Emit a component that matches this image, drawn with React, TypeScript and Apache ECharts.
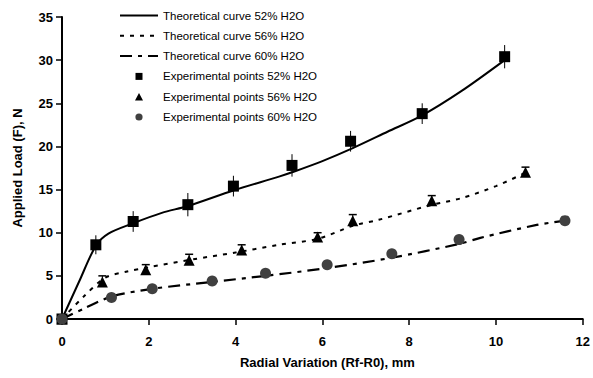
import React, { useEffect, useRef } from "react";
import * as echarts from "echarts";

const xTicks = [0, 2, 4, 6, 8, 10, 12];
const yTicks = [0, 5, 10, 15, 20, 25, 30, 35];

// Theoretical curves [x, y]
const theory52: number[][] = [
  [0, 0], [0.4, 4.4], [0.78, 8.5], [1.07, 9.9], [1.64, 11.1], [2.3, 12.3], [2.9, 13.1],
  [3.95, 14.9], [5.0, 16.5], [5.3, 17.0], [6.0, 18.3], [6.7, 19.8], [7.5, 21.7],
  [8.3, 23.6], [9.2, 26.4], [10.2, 30.0],
];
const theory56: number[][] = [
  [0, 0], [0.5, 2.6], [1.0, 4.8], [1.5, 5.5], [2.0, 6.0], [3.0, 6.9], [4.0, 7.7],
  [5.0, 8.6], [5.9, 9.3], [6.7, 10.8], [7.3, 11.5], [8.5, 13.2], [9.2, 14.0],
  [10.0, 15.4], [10.7, 17.0],
];
const theory60: number[][] = [
  [0, 0], [0.5, 1.2], [1.14, 2.6], [2.08, 3.5], [3.46, 4.3], [4.69, 5.0], [6.1, 5.9],
  [7.6, 7.1], [9.15, 8.7], [9.64, 9.4], [10.94, 10.9], [11.6, 11.4],
];

// Experimental points [x, y]
const exp52: number[][] = [
  [0, 0], [0.78, 8.6], [1.64, 11.3], [2.9, 13.25], [3.95, 15.4], [5.3, 17.8],
  [6.65, 20.6], [8.3, 23.8], [10.2, 30.4],
];
const err52 = [0, 1.1, 1.2, 1.35, 1.2, 1.3, 1.2, 1.2, 1.35];
const exp56: number[][] = [
  [0, 0], [0.93, 4.3], [1.93, 5.7], [2.93, 6.8], [4.14, 8.0], [5.89, 9.5],
  [6.7, 11.4], [8.52, 13.7], [10.68, 17.0],
];
const err56 = [0, 0.7, 0.6, 0.7, 0.6, 0.5, 0.7, 0.6, 0.6];
const exp60: number[][] = [
  [0, 0], [1.14, 2.5], [2.08, 3.5], [3.46, 4.4], [4.69, 5.3], [6.11, 6.3],
  [7.6, 7.55], [9.15, 9.2], [11.59, 11.4],
];

const names = [
  "Theoretical curve 52% H2O",
  "Theoretical curve 56% H2O",
  "Theoretical curve 60% H2O",
  "Experimental points 52% H2O",
  "Experimental points 56% H2O",
  "Experimental points 60% H2O",
];

const FONT = "Arial, 'Liberation Sans', Helvetica, sans-serif";

// legend icons with a 38x8 bounding box (move-to points) and a small centred marker
const squareIcon = "path://M0,0M38,8M15.5,0.5L22.5,0.5L22.5,7.5L15.5,7.5Z";
const triangleIcon = "path://M0,0M38,8M19,0.3L23,7.7L15,7.7Z";
const circleIcon = "path://M0,0M38,8M22.6,4A3.6,3.6,0,1,1,15.4,4A3.6,3.6,0,1,1,22.6,4Z";

export default function App() {
  const ref = useRef<HTMLDivElement>(null);
  useEffect(() => {
    if (!ref.current) return;
    const chart = echarts.init(ref.current, null, { renderer: "svg" });

    const errSeries = (pts: number[][], errs: number[], upperOnly: boolean, cap: number) => ({
      type: "custom",
      silent: true,
      z: 1,
      data: pts.map((p, i) => [p[0], p[1], errs[i]]),
      encode: { x: 0, y: 1 },
      renderItem: (params: any, api: any) => {
        const x = api.value(0);
        const y = api.value(1);
        const e = api.value(2);
        if (!e) return { type: "group", children: [] };
        const top = api.coord([x, y + e]);
        const bot = api.coord([x, upperOnly ? y : y - e]);
        const children: any[] = [
          {
            type: "line",
            shape: { x1: top[0], y1: top[1], x2: bot[0], y2: bot[1] },
            style: { stroke: "#000", lineWidth: 1 },
          },
        ];
        if (cap > 0) {
          children.push({
            type: "line",
            shape: { x1: top[0] - cap, y1: top[1], x2: top[0] + cap, y2: top[1] },
            style: { stroke: "#000", lineWidth: 1.5 },
          });
        }
        return { type: "group", children };
      },
    });

    const lineSeries = (name: string, data: number[][], type: any, width: number) => ({
      name,
      type: "line",
      data,
      symbol: "none",
      smooth: 0.3,
      lineStyle: { color: "#000", width, type },
      itemStyle: { color: "rgba(0,0,0,0)" },
      z: 2,
    });

    chart.setOption({
      animation: false,
      backgroundColor: "#fff",
      textStyle: { fontFamily: FONT },
      grid: { left: 62, right: 10, top: 17, bottom: 59 },
      legend: {
        data: [
          names[0],
          names[1],
          names[2],
          { name: names[3], icon: squareIcon },
          { name: names[4], icon: triangleIcon },
          { name: names[5], icon: circleIcon },
        ],
        orient: "vertical",
        left: 114,
        top: 4,
        itemWidth: 38,
        itemHeight: 8,
        itemGap: 7.3,
        textStyle: { fontSize: 11.5, fontFamily: FONT, color: "#000", lineHeight: 13 },
        selectedMode: false,
      },
      xAxis: {
        type: "value",
        min: xTicks[0],
        max: xTicks[xTicks.length - 1],
        interval: 2,
        name: "Radial Variation (Rf-R0), mm",
        nameLocation: "middle",
        nameGap: 37,
        nameTextStyle: { fontSize: 13, fontWeight: "bold", color: "#000", fontFamily: FONT, padding: [0, 0, 0, 10] },
        axisLine: { lineStyle: { color: "#000", width: 2 } },
        axisTick: { show: true, length: 6, lineStyle: { color: "#000", width: 1.5 } },
        axisLabel: { fontSize: 13, fontWeight: "bold", color: "#000", margin: 16, fontFamily: FONT },
        splitLine: { show: false },
      },
      yAxis: {
        type: "value",
        min: yTicks[0],
        max: yTicks[yTicks.length - 1],
        interval: 5,
        name: "Applied Load (F), N",
        nameLocation: "middle",
        nameGap: 38,
        nameTextStyle: { fontSize: 13, fontWeight: "bold", color: "#000", fontFamily: FONT },
        axisLine: { show: true, lineStyle: { color: "#000", width: 2 } },
        axisTick: { show: true, length: 6, lineStyle: { color: "#000", width: 1.5 } },
        axisLabel: { fontSize: 13, fontWeight: "bold", color: "#000", margin: 9, fontFamily: FONT },
        splitLine: { show: false },
      },
      series: [
        lineSeries(names[0], theory52, "solid", 2),
        lineSeries(names[1], theory56, [4, 6], 2),
        lineSeries(names[2], theory60, [12, 6, 4, 6], 2.2),
        errSeries(exp52, err52, false, 0),
        errSeries(exp56, err56, true, 4),
        {
          name: names[3],
          type: "scatter",
          data: exp52,
          symbol: "rect",
          symbolSize: 11,
          itemStyle: { color: "#000", opacity: 1 },
          z: 3,
        },
        {
          name: names[4],
          type: "scatter",
          data: exp56,
          symbol: "triangle",
          symbolSize: 11,
          itemStyle: { color: "#000", opacity: 1 },
          z: 3,
        },
        {
          name: names[5],
          type: "scatter",
          data: exp60,
          symbol: "circle",
          symbolSize: 11,
          itemStyle: { color: "#404040", opacity: 1 },
          z: 3,
        },
      ],
    });
    return () => chart.dispose();
  }, []);
  return <div ref={ref} style={{ width: 593, height: 378, position: "absolute", left: 0, top: 0 }} />;
}
